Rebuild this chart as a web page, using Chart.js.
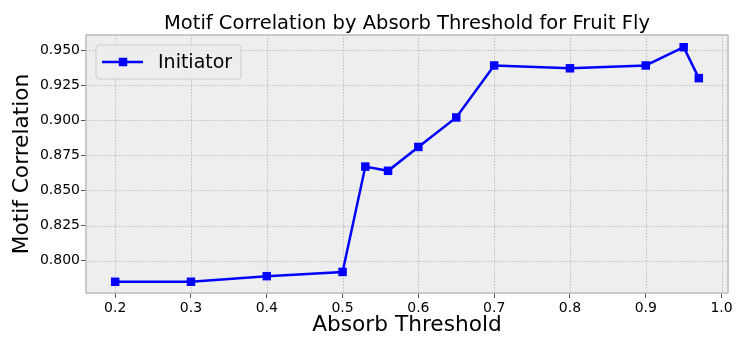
<!DOCTYPE html>
<html>
<head>
<meta charset="utf-8">
<script src="https://cdn.jsdelivr.net/npm/chart.js@4.4.1/dist/chart.umd.min.js"></script>
<style>
  html, body { margin: 0; padding: 0; background: #fff; }
  #wrap { width: 747px; height: 352px; }
</style>
</head>
<body>
<div id="wrap"><canvas id="chart" width="747" height="352"></canvas></div>
<script>
// data
const thresholds = [0.2, 0.3, 0.4, 0.5, 0.53, 0.56, 0.6, 0.65, 0.7, 0.8, 0.9, 0.95, 0.97];
const initiator = [0.785, 0.785, 0.789, 0.792, 0.867, 0.864, 0.881, 0.902, 0.939, 0.937, 0.939, 0.952, 0.930];
const seriesName = "Initiator";
const chartTitle = "Motif Correlation by Absorb Threshold for Fruit Fly";
const xLimits = [0.1615, 1.0085];
const yLimits = [0.777, 0.9607];

const font = "'DejaVu Sans', sans-serif";

// plot background, border and dotted grid (bmh look)
const plotFrame = {
    id: "plotFrame",
    beforeDatasetsDraw(chart) {
        const { ctx, chartArea: a, scales } = chart;
        ctx.save();
        ctx.fillStyle = "#eeeeee";
        ctx.fillRect(a.left, a.top, a.right - a.left, a.bottom - a.top);
        ctx.strokeStyle = "#b2b2b2";
        ctx.lineWidth = 0.8;
        ctx.setLineDash([1.5, 1.5]);
        scales.x.ticks.forEach(t => {
            const px = Math.round(scales.x.getPixelForValue(t.value)) + 0.5;
            ctx.beginPath(); ctx.moveTo(px, a.top); ctx.lineTo(px, a.bottom); ctx.stroke();
        });
        scales.y.ticks.forEach(t => {
            const py = Math.round(scales.y.getPixelForValue(t.value)) + 0.5;
            ctx.beginPath(); ctx.moveTo(a.left, py); ctx.lineTo(a.right, py); ctx.stroke();
        });
        ctx.setLineDash([]);
        ctx.strokeStyle = "#bcbcbc";
        ctx.lineWidth = 1.5;
        ctx.strokeRect(a.left, a.top, a.right - a.left, a.bottom - a.top);
        ctx.restore();
    },
    afterDraw(chart) {
        const { ctx, chartArea: a } = chart;
        const ds = chart.data.datasets[0];
        ctx.save();
        // title centred over the plot area
        ctx.fillStyle = "#000";
        ctx.font = "19.5px " + font;
        ctx.textAlign = "center";
        ctx.textBaseline = "alphabetic";
        ctx.fillText(chartTitle, (a.left + a.right) / 2, 29);

        // legend box in the upper left corner
        const x = a.left + 10, y = a.top + 10, w = 145, h = 34;
        ctx.fillStyle = "rgba(238,238,238,0.8)";
        ctx.strokeStyle = "#cccccc";
        ctx.lineWidth = 1;
        ctx.beginPath();
        ctx.roundRect(x, y, w, h, 3);
        ctx.fill(); ctx.stroke();
        const cy = y + h / 2;
        ctx.strokeStyle = ds.borderColor;
        ctx.lineWidth = ds.borderWidth;
        ctx.beginPath(); ctx.moveTo(x + 6, cy); ctx.lineTo(x + 47, cy); ctx.stroke();
        ctx.fillStyle = ds.pointBackgroundColor;
        ctx.fillRect(x + 27 - 4.25, cy - 4.25, 8.5, 8.5);
        ctx.fillStyle = "#000";
        ctx.font = "19px " + font;
        ctx.textAlign = "left";
        ctx.textBaseline = "middle";
        ctx.fillText(ds.label, x + 62, cy + 1);
        ctx.restore();
    }
};

new Chart(document.getElementById("chart"), {
    type: "line",
    data: {
        datasets: [{
            label: seriesName,
            data: thresholds.map((t, i) => ({ x: t, y: initiator[i] })),
            borderColor: "#0000ff",
            backgroundColor: "#0000ff",
            pointBackgroundColor: "#0000ff",
            pointBorderColor: "#0000ff",
            borderWidth: 2.5,
            pointStyle: "rect",
            pointRadius: 6,
            pointBorderWidth: 0,
            tension: 0
        }]
    },
    plugins: [plotFrame],
    options: {
        responsive: false,
        animation: false,
        layout: { padding: { left: 0, right: 19, top: 35, bottom: 0 } },
        plugins: {
            legend: { display: false },
            tooltip: { enabled: false },
            title: { display: false }
        },
        scales: {
            x: {
                type: "linear",
                min: xLimits[0],
                max: xLimits[1],
                afterFit(scale) { scale.height = 59; },
                grid: { drawOnChartArea: false, tickLength: 5, tickColor: "#555", lineWidth: 1 },
                border: { display: false },
                ticks: {
                    stepSize: 0.1,
                    includeBounds: false,
                    autoSkip: false,
                    maxRotation: 0,
                    padding: 2,
                    color: "#000",
                    font: { family: font, size: 14 },
                    callback: v => v.toFixed(1)
                },
                title: {
                    display: true,
                    text: "Absorb Threshold",
                    color: "#000",
                    font: { family: font, size: 21.7 },
                    padding: { top: 0, bottom: 14 }
                }
            },
            y: {
                type: "linear",
                min: yLimits[0],
                max: yLimits[1],
                afterFit(scale) { scale.width = 86; },
                grid: { drawOnChartArea: false, tickLength: 5, tickColor: "#555", lineWidth: 1 },
                border: { display: false },
                ticks: {
                    stepSize: 0.025,
                    includeBounds: false,
                    autoSkip: false,
                    padding: 1,
                    color: "#000",
                    font: { family: font, size: 14 },
                    callback: v => v.toFixed(3)
                },
                title: {
                    display: true,
                    text: "Motif Correlation",
                    color: "#000",
                    font: { family: font, size: 21.7 },
                    padding: { top: 9, bottom: 0 }
                }
            }
        }
    }
});
</script>
</body>
</html>
